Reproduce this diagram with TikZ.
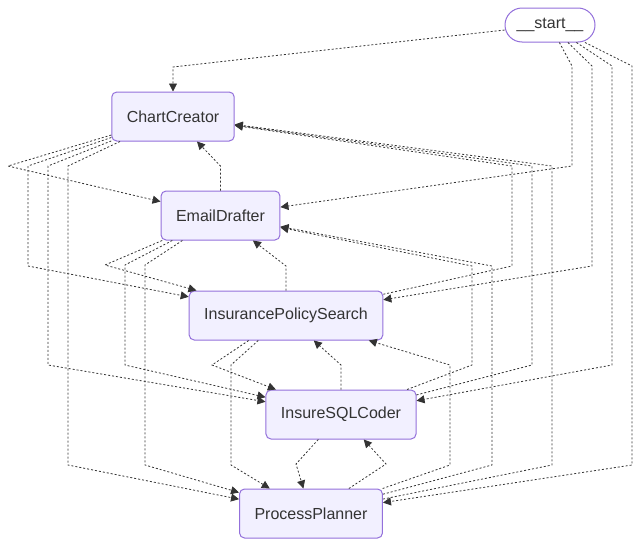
\documentclass[tikz,border=0pt]{standalone}
\usepackage{fontspec}
\setmainfont{Liberation Sans}
\usetikzlibrary{arrows.meta}
\definecolor{nodefill}{HTML}{F2F0FF}
\definecolor{nodeline}{HTML}{9370DB}
\definecolor{ink}{HTML}{333333}

\begin{document}
\begin{tikzpicture}[x=1pt,y=-1pt,
  agent/.style={draw=nodeline,fill=nodefill,line width=1pt,rounded corners=5pt,
    minimum height=49pt,inner xsep=15pt,text=ink,
    font=\fontsize{16}{19}\selectfont},
  entry/.style={draw=nodeline,fill=white,line width=1pt,rounded corners=17pt,
    minimum height=34pt,minimum width=90pt,text=ink,
    font=\fontsize{16}{19}\selectfont},
  edge/.style={draw=ink,line width=0.8pt,dash pattern=on 2pt off 2pt,
    -{Triangle[length=8pt,width=8pt]}}]
  \useasboundingbox
    (0,0)
    rectangle
    (640,546);
  \node[entry] (start) at (550,25) {\_\_start\_\_};
  \node[agent] (chart) at (173,116.5) {ChartCreator};
  \node[agent] (email) at (220.5,215.5) {EmailDrafter};
  \node[agent] (policy) at (286,315.5) {InsurancePolicySearch};
  \node[agent] (sql) at (341,414.5) {InsureSQLCoder};
  \node[agent] (planner) at (311,513.5) {ProcessPlanner};
  \draw[edge]
    (start)
    -- (173,67)
    -- (chart);
  \draw[edge]
    (start)
    -- (572,66)
    -- (572,166)
    -- (email);
  \draw[edge]
    (start)
    -- (592,66)
    -- (592,266)
    -- (policy);
  \draw[edge]
    (start)
    -- (612,66)
    -- (612,365)
    -- (sql);
  \draw[edge]
    (start)
    -- (632,66)
    -- (632,465)
    -- (planner);
  \draw[edge]
    (chart)
    -- (8,166)
    -- (email);
  \draw[edge]
    (chart)
    -- (28,166)
    -- (28,266)
    -- (policy);
  \draw[edge]
    (chart)
    -- (48,166)
    -- (48,365)
    -- (sql);
  \draw[edge]
    (chart)
    -- (68,166)
    -- (68,465)
    -- (planner);
  \draw[edge]
    (email)
    -- (220.5,166)
    -- (chart);
  \draw[edge]
    (email)
    -- (105,265)
    -- (policy);
  \draw[edge]
    (email)
    -- (125,265)
    -- (125,365)
    -- (sql);
  \draw[edge]
    (email)
    -- (145,265)
    -- (145,465)
    -- (planner);
  \draw[edge]
    (policy)
    -- (512,266)
    -- (512,166)
    -- (chart);
  \draw[edge]
    (policy)
    -- (286,266)
    -- (email);
  \draw[edge]
    (policy)
    -- (212,365)
    -- (sql);
  \draw[edge]
    (policy)
    -- (231,365)
    -- (231,465)
    -- (planner);
  \draw[edge]
    (sql)
    -- (532,365)
    -- (532,166)
    -- (chart);
  \draw[edge]
    (sql)
    -- (472,365)
    -- (472,266)
    -- (email);
  \draw[edge]
    (sql)
    -- (341,365)
    -- (policy);
  \draw[edge]
    (sql)
    -- (296,464)
    -- (planner);
  \draw[edge]
    (planner)
    -- (552,465)
    -- (552,166)
    -- (chart);
  \draw[edge]
    (planner)
    -- (492,465)
    -- (492,266)
    -- (email);
  \draw[edge]
    (planner)
    -- (450,465)
    -- (450,365)
    -- (policy);
  \draw[edge]
    (planner)
    -- (386,464)
    -- (sql);
\end{tikzpicture}
\end{document}
